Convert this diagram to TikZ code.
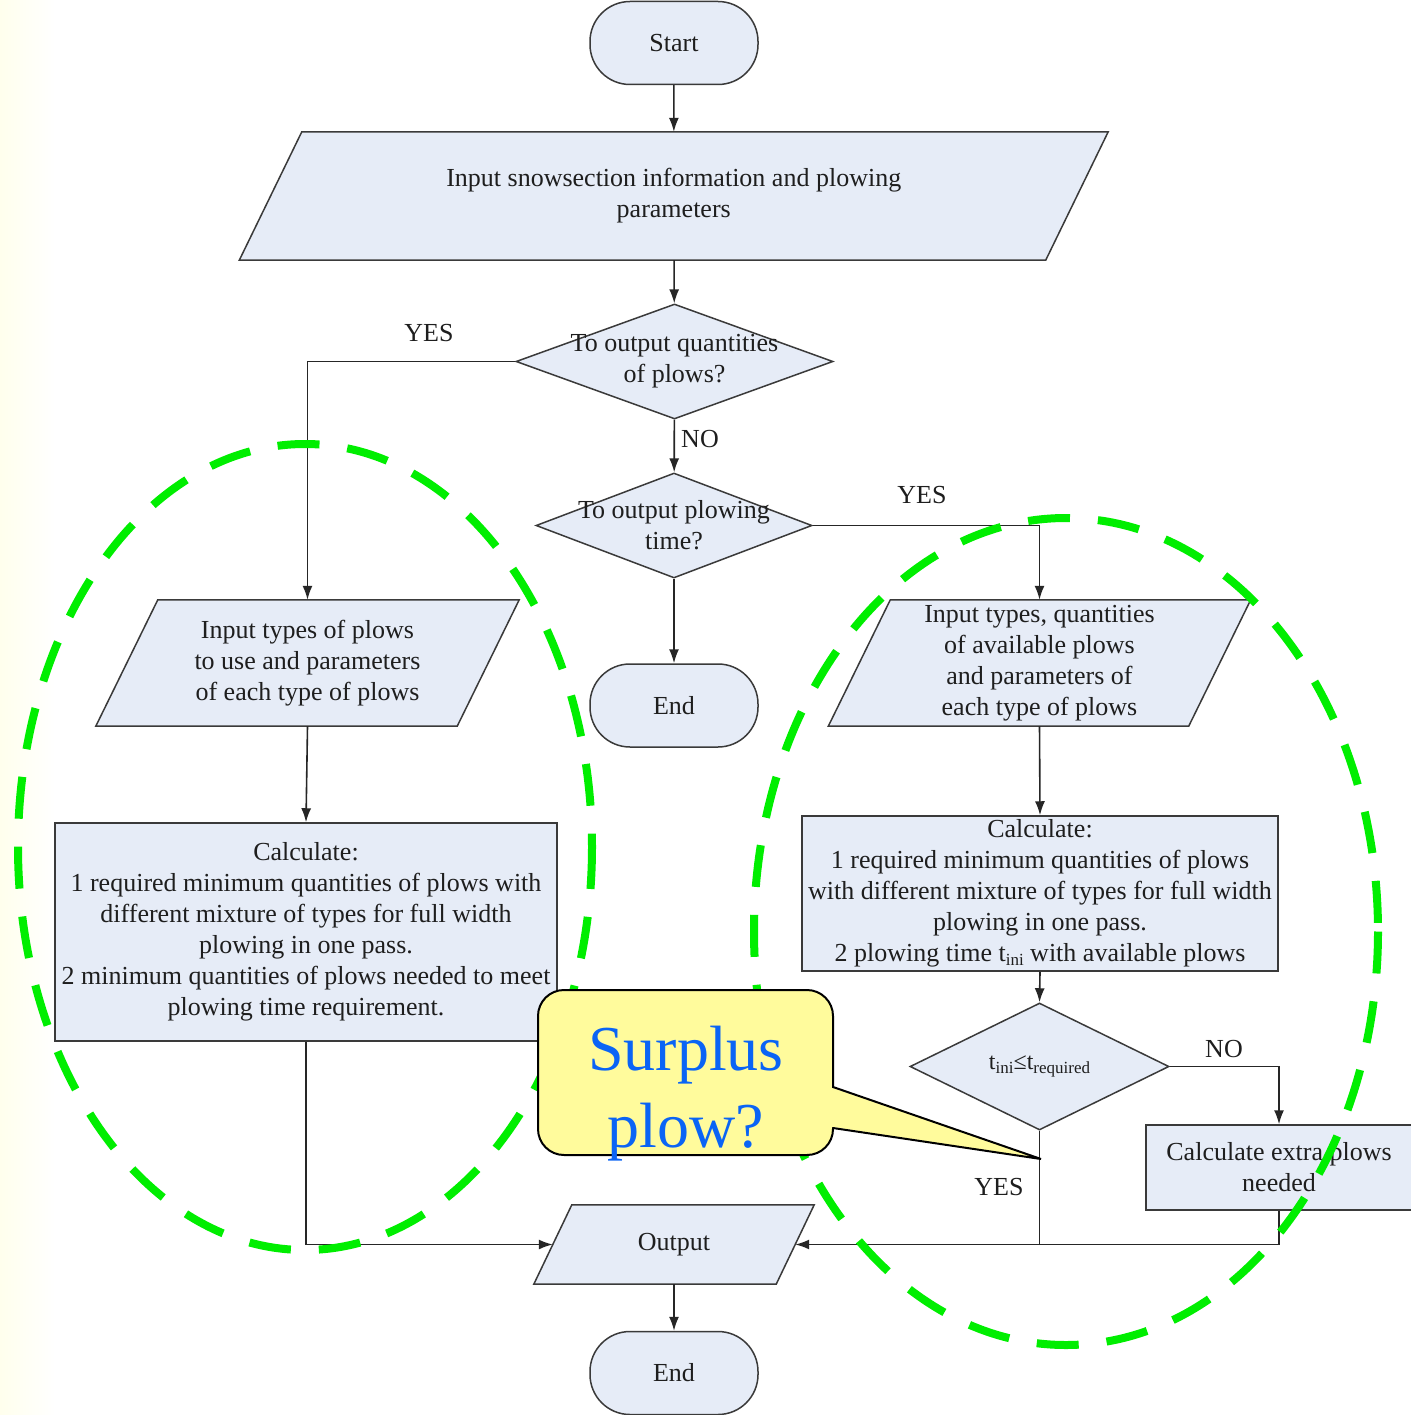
\documentclass[tikz,border=0pt]{standalone}
\usepackage{fontspec}
\setmainfont{Liberation Serif}
\usetikzlibrary{arrows.meta,shapes.geometric,calc}
\pgfdeclarelayer{bg}
\pgfsetlayers{bg,main}
\definecolor{boxfill}{HTML}{E6ECF7}
\definecolor{boxline}{HTML}{3A3A3A}
\definecolor{callfill}{HTML}{FFFB9C}
\definecolor{callblue}{HTML}{0A64F5}
\definecolor{dashgreen}{HTML}{00EE00}
\definecolor{inkgray}{HTML}{1E1E1E}
\newcommand\lowsub[2][15]{\raisebox{-0.35ex}{\fontsize{#1}{#1}\selectfont #2}}
\tikzset{
  every node/.style={font=\fontsize{26}{31}\selectfont, text=inkgray},
  slot/.style={rectangle, inner sep=0pt, align=center},
  procbox/.style={rectangle, draw=boxline, fill=boxfill, line width=1.5pt, inner sep=0pt, align=center},
  termbox/.style={rectangle, rounded corners=40pt, draw=boxline, fill=boxfill, line width=1.5pt, minimum width=168pt, minimum height=83pt},
  decbox/.style={diamond, draw=boxline, fill=boxfill, line width=1.5pt, inner sep=0pt},
  paraframe/.style={draw=boxline, fill=boxfill, line width=1.5pt},
  flow/.style={draw=black!85, line width=1.6pt, -{Latex[length=14pt,width=10pt]}},
  plainline/.style={draw=black!85, line width=1.6pt},
  txt/.style={align=center, inner sep=0pt},
  zone/.style={draw=dashgreen, line width=8pt, dash pattern=on 42pt off 28pt},
}
\newcommand\paraof[2]{\draw[paraframe] ([xshift=#2pt]#1.north west) -- ([xshift=#2pt]#1.north east) -- ([xshift=-#2pt]#1.south east) -- ([xshift=-#2pt]#1.south west) -- cycle;}
\begin{document}
\begin{tikzpicture}[x=1pt,y=-1pt]
\useasboundingbox (0,0) rectangle (1410,1415);
\begin{pgfonlayer}{bg}
  \fill[white] (0,0) rectangle (1410,1415);
  \shade[left color=yellow!7, right color=white] (0,0) rectangle (55,1415);
\end{pgfonlayer}

% terminals
\node[termbox] (start) at (674,43) {Start};
\node[termbox] (end1) at (674,705.5) {End};
\node[termbox] (end2) at (674,1373) {End};

% parallelograms (text slots + frames behind)
\node[slot, minimum width=806pt, minimum height=128pt] (p1) at (673.75,196) {Input snowsection information and plowing\\parameters};
\node[slot, minimum width=361pt, minimum height=126pt] (lp) at (307.5,663) {Input types of plows\\to use and parameters\\of each type of plows};
\node[slot, minimum width=360pt, minimum height=126pt] (rp) at (1039.5,663) {Input types, quantities\\of available plows\\and parameters of\\each type of plows};
\node[slot, minimum width=242pt, minimum height=79pt] (out) at (674,1244.5) {Output};
\begin{pgfonlayer}{bg}
  \paraof{p1}{31.25}
  \paraof{lp}{31}
  \paraof{rp}{31}
  \paraof{out}{19}
\end{pgfonlayer}

% decisions
\node[decbox, minimum width=317pt, minimum height=115pt] (d1) at (674.5,361.5) {};
\node[txt] at (d1) {To output quantities\\of plows?};
\node[decbox, minimum width=276pt, minimum height=105pt] (d2) at (674,525.5) {};
\node[txt] at (d2) {To output plowing\\time?};
\node[decbox, minimum width=259pt, minimum height=127pt] (d3) at (1039.5,1066.5) {};
\node[txt, font=\fontsize{24}{28}\selectfont] at (d3) {t\lowsub[17]{ini}≤t\lowsub[17]{required}};

% process boxes
\node[procbox, minimum width=502pt, minimum height=218pt] (lc) at (306,932) {Calculate:\\1 required minimum quantities of plows with\\different mixture of types for full width\\plowing in one pass.\\2 minimum quantities of plows needed to meet\\plowing time requirement.};
\node[procbox, minimum width=476pt, minimum height=155pt] (rc) at (1040,893.5) {Calculate:\\1 required minimum quantities of plows\\with different mixture of types for full width\\plowing in one pass.\\2 plowing time t\lowsub[17]{ini} with available plows};
\node[procbox, minimum width=266pt, minimum height=85pt] (ex) at (1279,1167.5) {Calculate extra plows\\needed};

% connectors
\draw[flow] (start) -- (p1);
\draw[flow] (p1) -- (d1);
\draw[flow] (d1.west) -| (lp.north);
\draw[flow] (d1) -- (d2);
\draw[flow] (d2) -- (end1);
\draw[flow] (d2.east) -| (rp.north);
\draw[flow] (lp.south) -- (lc.north);
\draw[flow] (rp.south) -- (rc.north);
\draw[flow] (rc.south) -- (d3.north);
\draw[flow] (d3.east) -| (ex.north);
\draw[flow] (lc.south) |- (out.west);
\draw[flow] (ex.south) |- (out.east);
\draw[plainline] (d3.south) -- (d3.south |- out.east);
\draw[flow] (out) -- (end2);

% connector labels
\node[txt] (yes1) at (429,333) {YES};
\node[txt] (no1) at (700,439) {NO};
\node[txt] (yes2) at (922,495) {YES};
\node[txt] (no2) at (1224,1049) {NO};
\node[txt] (yes3) at (999,1187) {YES};

% green dashed zones
\draw[zone] (305,847) ellipse [x radius=287, y radius=403];
\draw[zone] (1066,931.5) ellipse [x radius=312, y radius=413.5];

% callout
\node[rectangle, rounded corners=26pt, draw=black, line width=2pt, fill=callfill, minimum width=295pt, minimum height=165pt] (callout) at (685.5,1072.5) {};
\coordinate (tip) at (1041,1159);
\fill[callfill] (826,1088) -- (833,1088) -- (tip) -- (833,1127) -- (826,1127) -- cycle;
\draw[black, line width=2pt, line join=miter] (833,1087) -- (tip) -- (833,1128);
\node[anchor=base, inner sep=0pt, text=callblue, font=\fontsize{64}{77}\selectfont] (surp1) at (686,1070) {Surplus};
\node[anchor=base, inner sep=0pt, text=callblue, font=\fontsize{64}{77}\selectfont] (surp2) at (686,1147) {plow?};
\end{tikzpicture}
\end{document}
